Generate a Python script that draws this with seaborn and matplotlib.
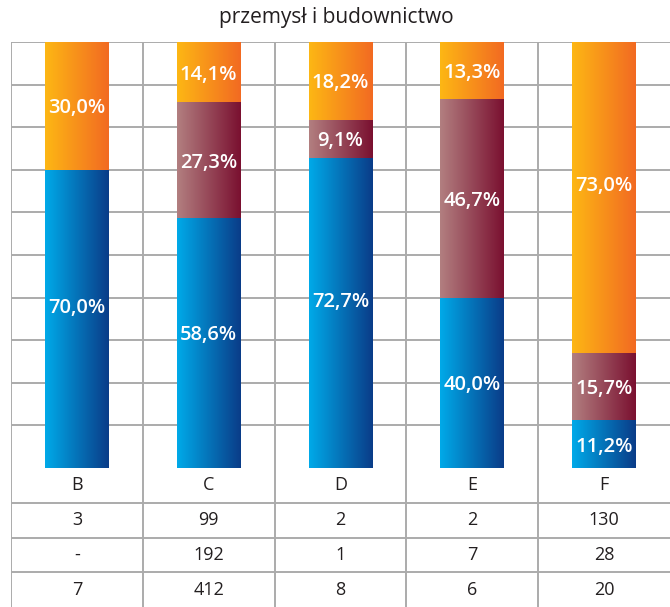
import numpy as np
import pandas as pd
import matplotlib
matplotlib.use("Agg")
import matplotlib.pyplot as plt
from matplotlib.colors import LinearSegmentedColormap
import seaborn as sns

# ---- data ----
title = "przemysł i budownictwo"
categories = ["B", "C", "D", "E", "F"]
pct_blue = [70.0, 58.6, 72.7, 40.0, 11.2]
pct_maroon = [0.0, 27.3, 9.1, 46.7, 15.7]
pct_orange = [30.0, 14.1, 18.2, 13.3, 73.0]
row_orange = ["3", "99", "2", "2", "130"]
row_maroon = ["-", "192", "1", "7", "28"]
row_blue = ["7", "412", "8", "6", "20"]

sns.set_theme(style="white")
plt.rcParams["font.family"] = ["Open Sans", "DejaVu Sans"]

W, H = 670, 607
fig = plt.figure(figsize=(W / 100, H / 100), dpi=100)
left, right_ = 11, 670
top, bottom = 42, 468
ax = fig.add_axes([left / W, 1 - bottom / H, (right_ - left) / W, (bottom - top) / H])
tax = fig.add_axes([left / W, 0, (right_ - left) / W, (H - bottom) / H])

df = pd.DataFrame({"cat": categories, "blue": pct_blue, "maroon": pct_maroon, "orange": pct_orange})
df["lvl1"] = df["blue"]
df["lvl2"] = df["blue"] + df["maroon"]
df["lvl3"] = df["blue"] + df["maroon"] + df["orange"]

grads = {
    "lvl3": ("#FDB714", "#F26A22"),
    "lvl2": ("#B27F80", "#7A1030"),
    "lvl1": ("#00AAE9", "#0A3C88"),
}

bw = 0.485
for z, col in enumerate(["lvl3", "lvl2", "lvl1"]):
    n_before = len(ax.patches)
    sns.barplot(data=df, x="cat", y=col, ax=ax, width=bw, color="white", linewidth=0, zorder=3 + z)
    cmap = LinearSegmentedColormap.from_list(col, list(grads[col]))
    grad = np.linspace(0, 1, 256).reshape(1, -1)
    for p in ax.patches[n_before:]:
        x0, y0 = p.get_x(), p.get_y()
        w, h = p.get_width(), p.get_height()
        if h <= 0:
            continue
        p.set_alpha(0)
        im = ax.imshow(grad, cmap=cmap, extent=(x0, x0 + w, y0, y0 + h),
                       aspect="auto", zorder=3 + z, interpolation="bicubic")
        im.set_clip_path(p)

ax.set_xlim(-0.5, 4.5)
ax.set_ylim(0, 100)
ax.set_xlabel("")
ax.set_ylabel("")
ax.set_xticks([])
ax.set_yticks([])
for s in ax.spines.values():
    s.set_visible(False)

gc = "#ABABAB"
lw = 1.4
for yv in range(10, 101, 10):
    ax.axhline(yv, color=gc, lw=lw, zorder=1)
for xv in np.arange(-0.5, 4.0, 1.0):
    ax.axvline(xv, color=gc, lw=lw, zorder=1)

# labels (tall segments carry their label a little above the middle)
fs = 14.5
for i in range(len(categories)):
    b, m, o = pct_blue[i], pct_maroon[i], pct_orange[i]
    segs = [(b, 0), (m, b), (o, b + m)]
    for v, base in segs:
        if v > 0:
            ypos = base + v / 2 + (0.045 * v if v > 50 else 0.0) - 0.6
            ax.text(i, ypos, f"{v:.1f}".replace(".", ",") + "%", ha="center", va="center",
                    color="white", fontsize=fs, fontweight="semibold", zorder=10)

fig.text(336 / W, 1 - 17 / H, title, ha="center", va="center", fontsize=15, color="#231F20")

# table
tax.set_xlim(-0.5, 4.5)
tax.set_ylim(4, 0)
tax.axis("off")
rows = [categories, row_orange, row_maroon, row_blue]
for r in range(4):
    if r > 0:
        tax.axhline(r, color=gc, lw=lw)
for xv in np.arange(-0.5, 4.0, 1.0):
    tax.axvline(xv, color=gc, lw=lw)
for r, row in enumerate(rows):
    for i, t in enumerate(row):
        tax.text(i, r + 0.5, t, ha="center", va="center", fontsize=13, color="#231F20")

fig.savefig("out.png", dpi=100)
